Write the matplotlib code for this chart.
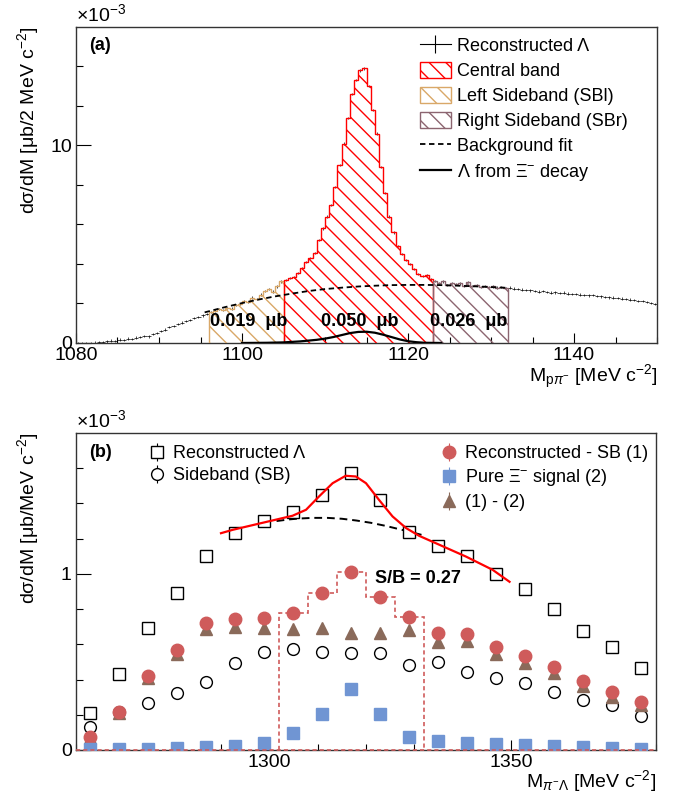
import numpy as np
import matplotlib.pyplot as plt
from matplotlib.lines import Line2D
from matplotlib.patches import Patch
from matplotlib.ticker import FixedLocator, MultipleLocator

plt.rcParams['font.family'] = ['Liberation Sans', 'DejaVu Sans']
plt.rcParams['mathtext.fontset'] = 'custom'
plt.rcParams['mathtext.rm'] = 'Liberation Sans'
plt.rcParams['mathtext.it'] = 'Liberation Sans:italic'
plt.rcParams['mathtext.bf'] = 'Liberation Sans:bold'
plt.rcParams['hatch.linewidth'] = 1.0

# ---- panel (a): p pi- invariant mass, 0.5 MeV bins from 1080 to 1150 (x 1e-3)
edges_a = np.arange(1080.0, 1150.01, 0.5)
dsig_a = [
    0.00, 0.00, 0.00, 0.01, 0.02, 0.04, 0.06, 0.08, 0.12, 0.10,
    0.17, 0.15, 0.22, 0.20, 0.27, 0.31, 0.35, 0.33, 0.44, 0.52,
    0.60, 0.68, 0.80, 0.86, 0.95, 1.03, 1.10, 1.17, 1.25, 1.33,
    1.40, 1.47, 1.58, 1.64, 1.72, 1.66, 1.78, 1.74, 1.92, 1.98,
    2.14, 2.06, 2.30, 2.22, 2.45, 2.62, 2.72, 2.60, 2.86, 3.12,
    3.20, 3.28, 3.35, 3.55, 3.80, 4.10, 4.30, 4.55, 5.20, 5.80,
    6.40, 7.00, 7.90, 9.00, 10.1, 11.4, 12.6, 13.3, 13.8, 13.9,
    13.0, 11.8, 10.6, 8.90, 7.60, 6.40, 5.60, 4.90, 4.50, 4.20,
    4.00, 3.75, 3.50, 3.38, 3.45, 3.22, 3.15, 3.05, 3.12, 2.95,
    3.05, 2.98, 3.02, 2.90, 3.08, 2.88, 2.92, 2.85, 2.90, 2.82,
    2.86, 2.80, 2.84, 2.78, 2.80, 2.75, 2.72, 2.70, 2.68, 2.66,
    2.64, 2.60, 2.62, 2.58, 2.55, 2.56, 2.52, 2.55, 2.50, 2.47,
    2.48, 2.45, 2.44, 2.41, 2.42, 2.38, 2.36, 2.33, 2.31, 2.30,
    2.28, 2.25, 2.24, 2.20, 2.17, 2.14, 2.12, 2.08, 2.02, 1.96,
]
err_a = 0.06
sbl_range = (1096, 1105)
central_range = (1105, 1123)
sbr_range = (1123, 1132)
band_yields = ['0.019', '0.050', '0.026']

bkg_m = [1095.5, 1098, 1100, 1102, 1104, 1106, 1108, 1110, 1112, 1114,
         1116, 1118, 1120, 1122, 1124, 1126, 1128, 1130, 1132]
bkg_a = [1.55, 1.82, 2.02, 2.20, 2.36, 2.50, 2.63, 2.73, 2.80, 2.86,
         2.90, 2.93, 2.94, 2.94, 2.93, 2.90, 2.87, 2.83, 2.79]

xi_m = [1100, 1103, 1105, 1107, 1109, 1110, 1111, 1112, 1113, 1114,
        1115, 1116, 1117, 1118, 1119, 1120, 1121, 1122, 1124]
xi_a = [0.00, 0.01, 0.03, 0.08, 0.16, 0.22, 0.30, 0.40, 0.50, 0.56,
        0.57, 0.52, 0.42, 0.30, 0.18, 0.09, 0.04, 0.01, 0.00]

# ---- panel (b): pi- Lambda invariant mass, 6 MeV bins (x 1e-3)
m_b = [1263, 1269, 1275, 1281, 1287, 1293, 1299, 1305, 1311, 1317,
       1323, 1329, 1335, 1341, 1347, 1353, 1359, 1365, 1371, 1377]
reco = [0.208, 0.430, 0.690, 0.894, 1.104, 1.231, 1.300, 1.352, 1.447, 1.572,
        1.417, 1.235, 1.160, 1.104, 0.998, 0.915, 0.800, 0.678, 0.583, 0.464]
sideband = [0.133, 0.216, 0.265, 0.326, 0.388, 0.493, 0.555, 0.571, 0.555, 0.553,
            0.553, 0.483, 0.502, 0.445, 0.407, 0.379, 0.330, 0.284, 0.256, 0.193]
reco_minus_sb = [0.076, 0.218, 0.422, 0.568, 0.720, 0.744, 0.748, 0.780, 0.894, 1.013,
                 0.867, 0.754, 0.663, 0.660, 0.587, 0.534, 0.473, 0.392, 0.328, 0.271]
pure_xi = [0.004, 0.004, 0.006, 0.013, 0.017, 0.025, 0.040, 0.095, 0.203, 0.348,
           0.203, 0.072, 0.051, 0.042, 0.034, 0.028, 0.023, 0.017, 0.011, 0.008]
diff = [0.070, 0.210, 0.410, 0.545, 0.686, 0.700, 0.694, 0.686, 0.694, 0.663,
        0.663, 0.682, 0.612, 0.621, 0.545, 0.496, 0.439, 0.364, 0.300, 0.256]
err_b = 0.01
signal_bins = slice(7, 12)
signal_edges = [1302, 1308, 1314, 1320, 1326, 1332]

fit_m = [1290.0, 1292.4, 1298.6, 1304.8, 1307.6, 1310.3, 1313.1, 1315.8, 1317.9,
         1320.0, 1322.7, 1325.5, 1328.3, 1331.0, 1335.2, 1340.7, 1346.2, 1349.7]
fit_b = [1.231, 1.250, 1.290, 1.330, 1.364, 1.440, 1.515, 1.557, 1.553,
         1.515, 1.420, 1.326, 1.260, 1.216, 1.165, 1.098, 1.023, 0.955]
bkg_m_b = [1301.5, 1304, 1306, 1309, 1312, 1315, 1318, 1321, 1324, 1327, 1329.5, 1331.7]
bkg_b = [1.300, 1.309, 1.314, 1.318, 1.318, 1.313, 1.303, 1.290, 1.273, 1.253, 1.236, 1.220]

RED = '#ff0000'
TAN = '#d9a868'
MAUVE = '#8c6570'
C_RED = '#cf5b5b'
C_BLUE = '#7095d3'
C_BROWN = '#8a6a5a'

fig = plt.figure(figsize=(6.76, 7.98), dpi=100)
ax1 = fig.add_axes([0.1124, 0.5702, 0.8596, 0.3960])
ax2 = fig.add_axes([0.1124, 0.0602, 0.8580, 0.3972])


def style_axes(ax):
    for s in ax.spines.values():
        s.set_linewidth(1.0)
        s.set_color('#333333')
    ax.tick_params(which='both', direction='in', top=False, right=False,
                   labelsize=14, pad=3, width=0.8)
    ax.tick_params(axis='y', which='major', length=11)
    ax.tick_params(axis='y', which='minor', length=5)
    ax.tick_params(axis='x', which='major', length=7)
    ax.tick_params(axis='x', which='minor', length=4)


# ---------------- panel (a)
centers_a = 0.5 * (edges_a[:-1] + edges_a[1:])
ax1.errorbar(centers_a, dsig_a, xerr=0.25, yerr=err_a, fmt='none',
             ecolor='black', elinewidth=0.5, zorder=2)

vals = np.array(dsig_a)
for (lo, hi), col in [(sbl_range, TAN), (central_range, RED), (sbr_range, MAUVE)]:
    sel = (edges_a >= lo) & (edges_a <= hi)
    e = edges_a[sel]
    v = vals[(centers_a > lo) & (centers_a < hi)]
    ax1.stairs(v, e, fill=True, facecolor='none', edgecolor=col,
               hatch='\\\\', lw=1.0, zorder=3)

ax1.plot(bkg_m, bkg_a, color='black', ls=(0, (3, 2)), lw=1.3, zorder=4)
ax1.plot(xi_m, xi_a, color='black', lw=1.6, zorder=4)

label_pos = [(sbl_range[0] + sbl_range[1]) / 2 + 0.3,
             (central_range[0] + central_range[1]) / 2 + 0.2,
             (sbr_range[0] + sbr_range[1]) / 2 - 0.2]
for xp, yl in zip(label_pos, band_yields):
    ax1.text(xp, 1.08, yl + '  μb', ha='center', va='center',
             fontsize=13, fontweight='bold', zorder=5)

ax1.set_xlim(1080, 1150)
ax1.set_ylim(0, 16)
ax1.xaxis.set_major_locator(FixedLocator([1080, 1100, 1120, 1140]))
ax1.xaxis.set_minor_locator(MultipleLocator(5))
ax1.yaxis.set_major_locator(FixedLocator([0, 10]))
ax1.yaxis.set_minor_locator(FixedLocator([2, 4, 6, 8, 12, 14]))
style_axes(ax1)

ax1.text(0.0, 1.005, '×10$^{-3}$', transform=ax1.transAxes, fontsize=14,
         ha='left', va='bottom')
ax1.text(0.022, 0.94, '(a)', transform=ax1.transAxes, fontsize=13,
         fontweight='bold', ha='left', va='center')
ax1.text(-0.082, 1.0, 'dσ/dM [μb/2 MeV c$^{-2}$]', transform=ax1.transAxes,
         rotation=90, fontsize=14, ha='center', va='top')
ax1.text(1.0, -0.125, 'M$_{\\mathrm{p}\\pi^{-}}$ [MeV c$^{-2}$]', transform=ax1.transAxes,
         fontsize=14, ha='right', va='baseline')

handles_a = [
    Line2D([], [], color='black', lw=0.8, marker='|', ms=13, mew=0.8),
    Patch(facecolor='none', edgecolor=RED, hatch='\\\\', lw=1.0),
    Patch(facecolor='none', edgecolor=TAN, hatch='\\\\', lw=1.0),
    Patch(facecolor='none', edgecolor=MAUVE, hatch='\\\\', lw=1.0),
    Line2D([], [], color='black', ls=(0, (3, 2)), lw=1.3),
    Line2D([], [], color='black', lw=1.6),
]
labels_a = ['Reconstructed Λ', 'Central band', 'Left Sideband (SBl)',
            'Right Sideband (SBr)', 'Background fit', 'Λ from Ξ$^{-}$ decay']
ax1.legend(handles_a, labels_a, loc='upper left', bbox_to_anchor=(0.592, 0.97),
           frameon=False, fontsize=13, handlelength=1.7, handleheight=1.0,
           handletextpad=0.35, labelspacing=0.38, borderpad=0, borderaxespad=0)

# ---------------- panel (b)
h_reco = ax2.errorbar(m_b, reco, yerr=err_b, fmt='s', ms=8.5, mfc='white', mec='black',
                      mew=1.0, ecolor='black', elinewidth=0.8, zorder=4)
h_sb = ax2.errorbar(m_b, sideband, yerr=err_b, fmt='o', ms=8.5, mfc='white', mec='black',
                    mew=1.0, ecolor='black', elinewidth=0.8, zorder=4)
h_diff = ax2.errorbar(m_b, diff, yerr=err_b, fmt='^', ms=8.5, mfc=C_BROWN, mec=C_BROWN,
                      ecolor=C_BROWN, elinewidth=0.8, zorder=4)
h_rsb = ax2.errorbar(m_b, reco_minus_sb, yerr=err_b, fmt='o', ms=9, mfc=C_RED, mec=C_RED,
                     ecolor=C_RED, elinewidth=0.8, zorder=5)
h_xi = ax2.errorbar(m_b, pure_xi, yerr=err_b, fmt='s', ms=8, mfc=C_BLUE, mec=C_BLUE,
                    ecolor=C_BLUE, elinewidth=0.8, zorder=5)

ax2.stairs(reco_minus_sb[signal_bins], signal_edges, baseline=0, fill=False,
           color=C_RED, ls=(0, (2.5, 1.8)), lw=1.2, zorder=3)
ax2.axhline(0, color=C_RED, ls=(0, (2.5, 1.8)), lw=1.2, zorder=6, clip_on=False)

ax2.plot(bkg_m_b, bkg_b, color='black', ls=(0, (4, 2.5)), lw=1.4, zorder=3)
ax2.plot(fit_m, fit_b, color=RED, lw=1.6, zorder=6)

ax2.text(1321.8, 0.975, 'S/B = 0.27', fontsize=13, fontweight='bold',
         ha='left', va='center')

ax2.set_xlim(1260, 1380)
ax2.set_ylim(0, 1.8)
ax2.xaxis.set_major_locator(FixedLocator([1300, 1350]))
ax2.xaxis.set_minor_locator(MultipleLocator(10))
ax2.yaxis.set_major_locator(FixedLocator([0, 1]))
ax2.yaxis.set_minor_locator(FixedLocator([0.2, 0.4, 0.6, 0.8, 1.2, 1.4, 1.6]))
style_axes(ax2)

ax2.text(0.0, 1.005, '×10$^{-3}$', transform=ax2.transAxes, fontsize=14,
         ha='left', va='bottom')
ax2.text(0.022, 0.94, '(b)', transform=ax2.transAxes, fontsize=13,
         fontweight='bold', ha='left', va='center')
ax2.text(-0.082, 1.0, 'dσ/dM [μb/MeV c$^{-2}$]', transform=ax2.transAxes,
         rotation=90, fontsize=14, ha='center', va='top')
ax2.text(1.0, -0.118, 'M$_{\\pi^{-}\\Lambda}$ [MeV c$^{-2}$]', transform=ax2.transAxes,
         fontsize=14, ha='right', va='baseline')

leg1 = ax2.legend([h_reco, h_sb], ['Reconstructed Λ', 'Sideband (SB)'],
                  loc='upper left', bbox_to_anchor=(0.124, 0.962), frameon=False,
                  fontsize=13, handlelength=1.0, handletextpad=0.4,
                  labelspacing=0.3, borderpad=0, borderaxespad=0)
ax2.add_artist(leg1)
ax2.legend([h_rsb, h_xi, h_diff], ['Reconstructed - SB (1)', 'Pure Ξ$^{-}$ signal (2)', '(1) - (2)'],
           loc='upper left', bbox_to_anchor=(0.627, 0.962), frameon=False,
           fontsize=13, handlelength=1.0, handletextpad=0.4,
           labelspacing=0.3, borderpad=0, borderaxespad=0)

fig.savefig('out.png', dpi=100)
